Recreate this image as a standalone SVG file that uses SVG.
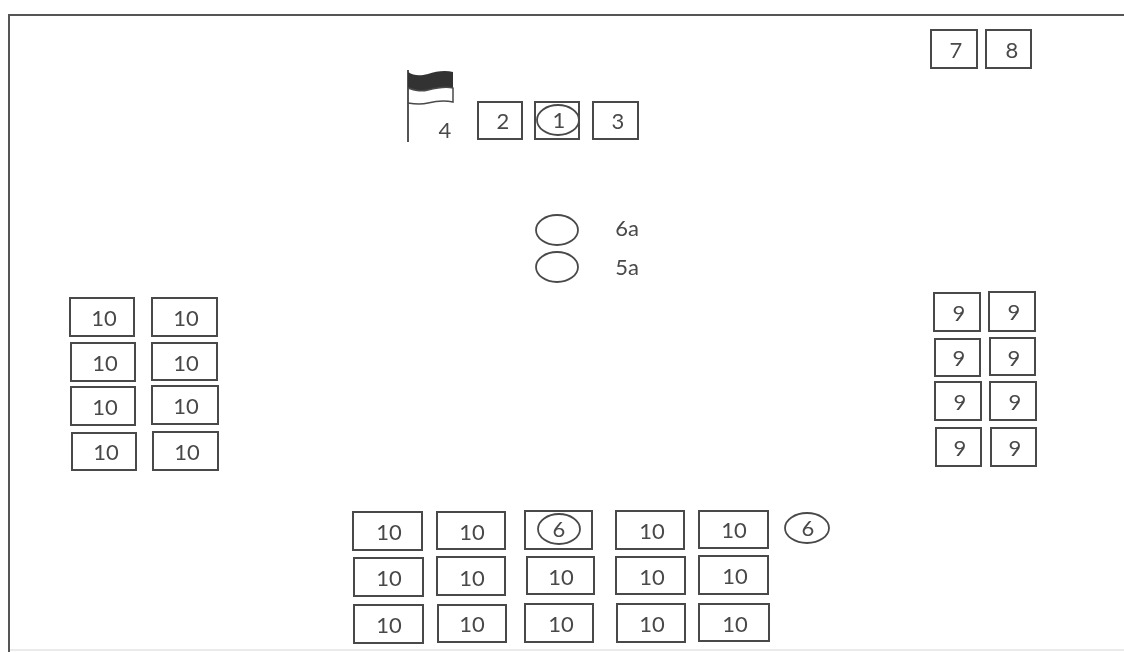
<svg xmlns="http://www.w3.org/2000/svg" width="1124" height="652" viewBox="0 0 1124 652">
<style>
rect.b{fill:none;stroke:#4a4a4a;stroke-width:2}
ellipse{fill:none;stroke:#4a4a4a;stroke-width:1.8}
line{stroke:#555;stroke-width:2}
text{font-family:"Lato","Liberation Sans",sans-serif;font-size:22px;fill:#484848;text-anchor:middle}
</style>
<defs><filter id="s" x="-2%" y="-2%" width="104%" height="104%"><feGaussianBlur stdDeviation="0.55"/></filter></defs>
<rect width="1124" height="652" fill="#fff"/>
<g filter="url(#s)">
<g id="frame">
<line x1="8" y1="15" x2="1124" y2="15"/>
<line x1="9" y1="15" x2="9" y2="652"/>
<line x1="10" y1="650" x2="1124" y2="650" style="stroke:#e4e4e4;stroke-width:1.5"/>
</g>
<g id="n4"><line x1="408" y1="70" x2="408" y2="142"/>
<path d="M408 72C414 76 420 76 428 74C436 71 446 70 453 72V88C444 86 436 88 428 90C420 92 414 90 408 88Z" fill="#333"/>
<path d="M408 88C414 90 420 92 428 90C436 88 444 86 453 88V102C444 100 436 101 428 103C420 105 414 104 408 103" fill="none" stroke="#4a4a4a" stroke-width="1.5"/>
<text x="445" y="138">4</text></g>
<g id="n2"><rect class="b" x="478" y="102" width="44" height="37"/><text x="503" y="129">2</text></g>
<g id="n1"><rect class="b" x="535" y="102" width="44" height="37"/><ellipse cx="558" cy="120" rx="21" ry="15"/><text x="559" y="128">1</text></g>
<g id="n3"><rect class="b" x="593" y="102" width="45" height="37"/><text x="618" y="129">3</text></g>
<g id="n7"><rect class="b" x="931" y="30" width="46" height="38"/><text x="956" y="58">7</text></g>
<g id="n8"><rect class="b" x="986" y="30" width="45" height="38"/><text x="1012" y="58">8</text></g>
<g id="n6a"><ellipse cx="557" cy="230" rx="21" ry="15"/><text x="627" y="236">6a</text></g>
<g id="n5a"><ellipse cx="557" cy="267" rx="21" ry="15"/><text x="627" y="275">5a</text></g>
<g id="l1"><rect class="b" x="70" y="298" width="64" height="38"/><text x="104" y="326">10</text></g>
<g id="l2"><rect class="b" x="152" y="298" width="65" height="38"/><text x="186" y="326">10</text></g>
<g id="l3"><rect class="b" x="71" y="343" width="64" height="38"/><text x="105" y="371">10</text></g>
<g id="l4"><rect class="b" x="152" y="343" width="65" height="37"/><text x="186" y="371">10</text></g>
<g id="l5"><rect class="b" x="71" y="387" width="64" height="38"/><text x="105" y="415">10</text></g>
<g id="l6"><rect class="b" x="152" y="386" width="66" height="38"/><text x="186" y="414">10</text></g>
<g id="l7"><rect class="b" x="72" y="433" width="64" height="37"/><text x="106" y="460">10</text></g>
<g id="l8"><rect class="b" x="153" y="432" width="65" height="38"/><text x="187" y="460">10</text></g>
<g id="r1"><rect class="b" x="934" y="293" width="46" height="38"/><text x="959" y="321">9</text></g>
<g id="r2"><rect class="b" x="989" y="292" width="46" height="39"/><text x="1014" y="320">9</text></g>
<g id="r3"><rect class="b" x="935" y="339" width="45" height="37"/><text x="959" y="366">9</text></g>
<g id="r4"><rect class="b" x="990" y="338" width="45" height="37"/><text x="1014" y="366">9</text></g>
<g id="r5"><rect class="b" x="935" y="382" width="46" height="38"/><text x="960" y="410">9</text></g>
<g id="r6"><rect class="b" x="990" y="382" width="46" height="38"/><text x="1015" y="410">9</text></g>
<g id="r7"><rect class="b" x="936" y="428" width="45" height="38"/><text x="960" y="456">9</text></g>
<g id="r8"><rect class="b" x="991" y="428" width="45" height="38"/><text x="1015" y="456">9</text></g>
<g id="b11"><rect class="b" x="353" y="512" width="69" height="38"/><text x="389" y="540">10</text></g>
<g id="b12"><rect class="b" x="437" y="512" width="68" height="37"/><text x="472" y="540">10</text></g>
<g id="b13"><rect class="b" x="525" y="511" width="67" height="38"/><ellipse cx="559" cy="529" rx="21" ry="15"/><text x="559" y="537">6</text></g>
<g id="b14"><rect class="b" x="616" y="511" width="68" height="38"/><text x="652" y="539">10</text></g>
<g id="b15"><rect class="b" x="699" y="511" width="69" height="37"/><text x="734" y="538">10</text></g>
<g id="c6"><ellipse cx="807" cy="528" rx="22" ry="15"/><text x="808" y="536">6</text></g>
<g id="b21"><rect class="b" x="354" y="558" width="69" height="38"/><text x="389" y="586">10</text></g>
<g id="b22"><rect class="b" x="437" y="557" width="68" height="38"/><text x="472" y="586">10</text></g>
<g id="b23"><rect class="b" x="527" y="557" width="67" height="37"/><text x="561" y="585">10</text></g>
<g id="b24"><rect class="b" x="616" y="557" width="69" height="37"/><text x="652" y="585">10</text></g>
<g id="b25"><rect class="b" x="699" y="556" width="69" height="38"/><text x="735" y="584">10</text></g>
<g id="b31"><rect class="b" x="354" y="605" width="69" height="38"/><text x="389" y="633">10</text></g>
<g id="b32"><rect class="b" x="438" y="605" width="68" height="37"/><text x="472" y="632">10</text></g>
<g id="b33"><rect class="b" x="525" y="604" width="68" height="38"/><text x="561" y="632">10</text></g>
<g id="b34"><rect class="b" x="617" y="604" width="68" height="38"/><text x="652" y="632">10</text></g>
<g id="b35"><rect class="b" x="699" y="604" width="70" height="37"/><text x="735" y="632">10</text></g>
</g>
</svg>
